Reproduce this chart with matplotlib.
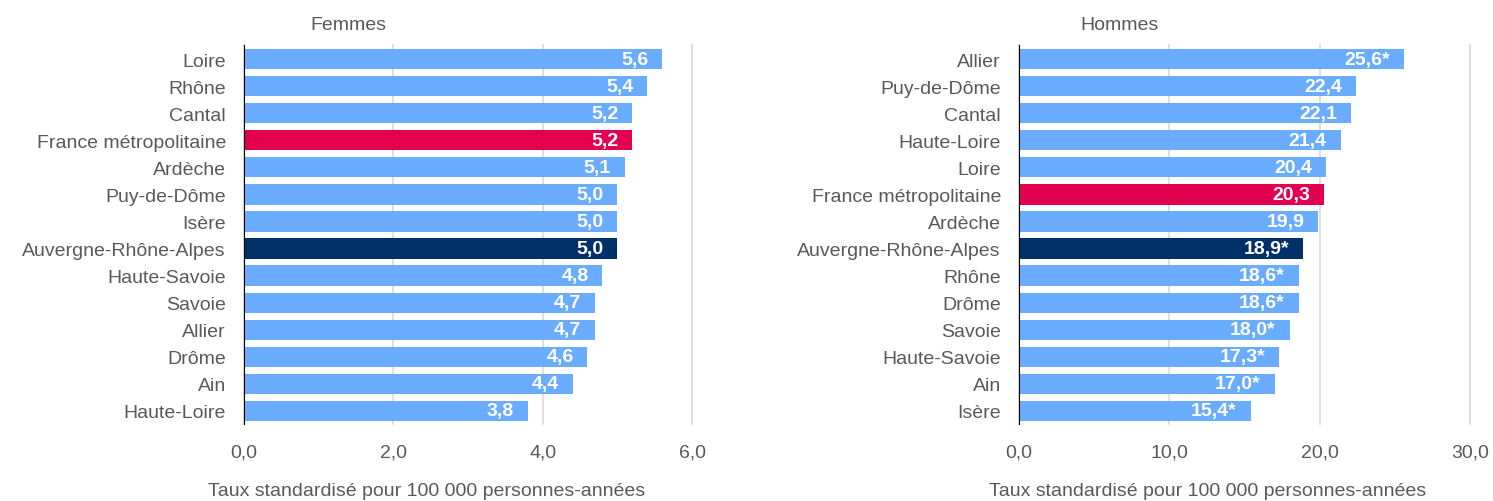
import matplotlib.pyplot as plt
import numpy as np

plt.rcParams['font.family'] = ['Liberation Sans', 'DejaVu Sans']

# Données
femmes_noms = ["Loire", "Rhône", "Cantal", "France métropolitaine", "Ardèche",
               "Puy-de-Dôme", "Isère", "Auvergne-Rhône-Alpes", "Haute-Savoie",
               "Savoie", "Allier", "Drôme", "Ain", "Haute-Loire"]
femmes_valeurs = [5.6, 5.4, 5.2, 5.2, 5.1, 5.0, 5.0, 5.0, 4.8, 4.7, 4.7, 4.6, 4.4, 3.8]
femmes_etoiles = [False] * 14

hommes_noms = ["Allier", "Puy-de-Dôme", "Cantal", "Haute-Loire", "Loire",
               "France métropolitaine", "Ardèche", "Auvergne-Rhône-Alpes", "Rhône",
               "Drôme", "Savoie", "Haute-Savoie", "Ain", "Isère"]
hommes_valeurs = [25.6, 22.4, 22.1, 21.4, 20.4, 20.3, 19.9, 18.9, 18.6, 18.6, 18.0, 17.3, 17.0, 15.4]
hommes_etoiles = [True, False, False, False, False, False, False,
                  True, True, True, True, True, True, True]

femmes_ticks = [0, 2, 4, 6]
hommes_ticks = [0, 10, 20, 30]

BLEU = "#6aacff"
ROSE = "#e3004f"
MARINE = "#003068"
GRIS = "#595959"
TAILLE = 14


def couleur(nom):
    if nom == "France métropolitaine":
        return ROSE
    if nom == "Auvergne-Rhône-Alpes":
        return MARINE
    return BLEU


def trace(ax, noms, valeurs, etoiles, ticks):
    y = np.arange(len(noms))
    ax.barh(y, valeurs, height=0.75, color=[couleur(n) for n in noms], zorder=3)
    ax.set_ylim(len(noms) - 0.5, -0.5)
    ax.set_xlim(ticks[0], ticks[-1])
    ax.set_yticks(y)
    ax.set_yticklabels(noms, fontsize=TAILLE, color=GRIS)
    ax.set_xticks(ticks)
    ax.set_xticklabels([f"{t:.1f}".replace(".", ",") for t in ticks], fontsize=TAILLE, color=GRIS)
    ax.tick_params(axis='y', length=0, pad=13)
    ax.tick_params(axis='x', length=0, pad=14)
    ax.grid(axis='x', color="#d9d9d9", linewidth=1.2, zorder=0)
    for gl in ax.get_xgridlines():
        gl.set_clip_on(False)
    for s in ["top", "right", "bottom"]:
        ax.spines[s].set_visible(False)
    ax.spines["left"].set_color("black")
    ax.spines["left"].set_zorder(4)
    for yi, v, e in zip(y, valeurs, etoiles):
        txt = f"{v:.1f}".replace(".", ",") + ("*" if e else "")
        ax.annotate(txt, (v, yi), xytext=(-10, 0), textcoords="offset points",
                    ha="right", va="center", color="white", fontsize=TAILLE,
                    fontweight="bold", zorder=5)


fig = plt.figure(figsize=(14.93, 5.02), dpi=100)
ax1 = fig.add_axes([0.1634, 0.1524, 0.3001, 0.755])
ax2 = fig.add_axes([0.6825, 0.1524, 0.3021, 0.755])

trace(ax1, femmes_noms, femmes_valeurs, femmes_etoiles, femmes_ticks)
trace(ax2, hommes_noms, hommes_valeurs, hommes_etoiles, hommes_ticks)

fig.text(310 / 1493, 1 - 26 / 502, "Femmes", fontsize=TAILLE, color=GRIS, va="center")
fig.text(1080 / 1493, 1 - 26 / 502, "Hommes", fontsize=TAILLE, color=GRIS, va="center")
xlab = "Taux standardisé pour 100 000 personnes-années"
fig.text(427 / 1493, 1 - 492 / 502, xlab, fontsize=TAILLE, color=GRIS, ha="center", va="center")
fig.text(1208 / 1493, 1 - 492 / 502, xlab, fontsize=TAILLE, color=GRIS, ha="center", va="center")

fig.savefig("out.png", dpi=100)
